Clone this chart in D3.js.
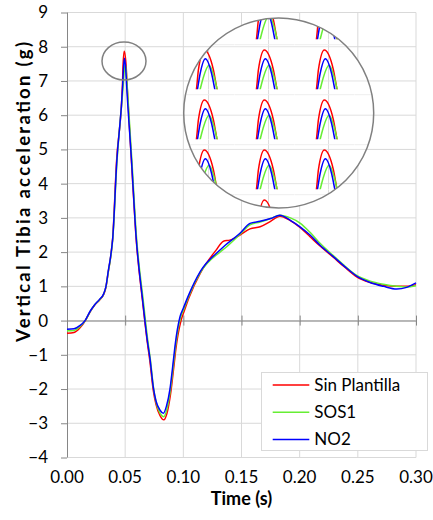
<!DOCTYPE html>
<html>
<head>
<meta charset="utf-8">
<script src="https://cdn.jsdelivr.net/npm/d3@7"></script>
<style>
  body { margin: 0; background: #fff; }
  text { font-family: Lato, "Open Sans", sans-serif; fill: #000; }
</style>
</head>
<body>
<div class="chart"></div>
<script>
// series names and colours
var seriesNames = ["Sin Plantilla", "SOS1", "NO2"];
var seriesColors = ["#ff0000", "#66ee33", "#0000ff"];

// [time (s), acceleration (g)]
var sinPlantilla = [[0.000,-0.37],[0.006,-0.35],[0.011,-0.22],[0.0158,0.0],[0.020,0.26],[0.0235,0.44],[0.028,0.6],[0.0315,0.76],[0.0335,0.98],[0.0355,1.43],[0.0376,1.88],[0.0393,2.42],[0.0425,4.6],[0.0477,6.91],[0.0481,7.4],[0.0492,7.87],[0.0509,7.4],[0.0516,6.91],[0.0555,4.6],[0.0592,2.5],[0.065,0.55],[0.069,-0.62],[0.0713,-1.2],[0.0742,-2.05],[0.0765,-2.45],[0.080,-2.78],[0.0832,-2.9],[0.086,-2.7],[0.089,-2.15],[0.092,-1.3],[0.0937,-0.8],[0.098,0.0],[0.101,0.3],[0.105,0.68],[0.1145,1.38],[0.128,2.05],[0.1345,2.32],[0.140,2.35],[0.1487,2.5],[0.1573,2.68],[0.166,2.74],[0.175,2.9],[0.183,3.05],[0.192,2.92],[0.2003,2.72],[0.2089,2.45],[0.2175,2.18],[0.2289,1.85],[0.238,1.58],[0.249,1.28],[0.260,1.12],[0.272,1.03],[0.2834,1.0],[0.292,1.0],[0.300,1.05]];

var sos1 = [[0.000,-0.3],[0.006,-0.29],[0.011,-0.18],[0.0157,0.0],[0.020,0.27],[0.0235,0.45],[0.028,0.61],[0.0315,0.77],[0.0335,0.99],[0.0355,1.42],[0.0376,1.86],[0.0393,2.36],[0.0428,4.55],[0.0484,6.91],[0.049,7.2],[0.0501,7.5],[0.0511,7.2],[0.05165,6.91],[0.0559,4.6],[0.0596,2.5],[0.0655,0.6],[0.0694,-0.57],[0.0717,-1.15],[0.0745,-2.0],[0.0768,-2.42],[0.0802,-2.72],[0.083,-2.81],[0.0858,-2.6],[0.0888,-2.05],[0.0918,-1.2],[0.0933,-0.75],[0.0975,0.08],[0.1005,0.34],[0.1045,0.7],[0.1145,1.4],[0.1315,2.0],[0.136,2.12],[0.1487,2.52],[0.1573,2.8],[0.166,2.88],[0.175,2.98],[0.183,3.08],[0.192,3.0],[0.2003,2.85],[0.2089,2.58],[0.2175,2.26],[0.2289,1.9],[0.238,1.62],[0.249,1.32],[0.260,1.16],[0.272,1.06],[0.2834,1.0],[0.292,0.98],[0.300,1.02]];

var no2 = [[0.000,-0.25],[0.006,-0.24],[0.011,-0.15],[0.0155,0.0],[0.020,0.28],[0.0235,0.45],[0.028,0.62],[0.0315,0.78],[0.0335,1.0],[0.0355,1.45],[0.0376,1.9],[0.0393,2.4],[0.0427,4.6],[0.0479,6.91],[0.0484,7.29],[0.0494,7.66],[0.0506,7.29],[0.0512,6.91],[0.0556,4.6],[0.0593,2.5],[0.065,0.6],[0.069,-0.57],[0.0713,-1.1],[0.0742,-1.95],[0.0765,-2.35],[0.080,-2.62],[0.0828,-2.71],[0.0855,-2.5],[0.0885,-2.0],[0.0915,-1.15],[0.093,-0.7],[0.0971,0.11],[0.100,0.36],[0.104,0.7],[0.1145,1.43],[0.1315,2.06],[0.136,2.2],[0.1487,2.55],[0.1573,2.84],[0.166,2.9],[0.175,2.98],[0.183,3.08],[0.192,2.93],[0.2003,2.74],[0.2089,2.5],[0.2175,2.2],[0.2289,1.87],[0.238,1.6],[0.249,1.3],[0.260,1.12],[0.272,1.0],[0.2834,0.92],[0.292,0.97],[0.300,1.1]];

// axis ticks
var xTicks = [0, 0.05, 0.10, 0.15, 0.20, 0.25, 0.30];
var yTicks = [-4, -3, -2, -1, 0, 1, 2, 3, 4, 5, 6, 7, 8, 9];

// window of the peak that the magnifier repeats
var zoomTime = [0.04354, 0.05486];
var zoomValue = [8.13, 6.92];

var allSeries = [sinPlantilla, sos1, no2];

var width = 433, height = 520;
var plotLeft = 67, plotRight = 416, plotTop = 12.5, plotBottom = 457.5;

var svg = d3.select('.chart')
            .append('svg')
            .attr('width', width)
            .attr('height', height);

var x = d3.scaleLinear().domain([0, 0.30]).range([plotLeft, plotRight]);
var y = d3.scaleLinear().domain([-4, 9]).range([plotBottom, plotTop]);

//gridlines
svg.append('g').selectAll('line')
   .data(yTicks).enter().append('line')
   .attr('x1', plotLeft).attr('x2', plotRight)
   .attr('y1', function(d) { return y(d); })
   .attr('y2', function(d) { return y(d); })
   .attr('stroke', '#d9d9d9').attr('stroke-width', 1);

svg.append('g').selectAll('line')
   .data(xTicks.slice(1)).enter().append('line')
   .attr('x1', function(d) { return x(d); })
   .attr('x2', function(d) { return x(d); })
   .attr('y1', plotTop).attr('y2', plotBottom)
   .attr('stroke', '#d9d9d9').attr('stroke-width', 1);

//y axis with outside ticks
var yAxis = svg.append('g')
   .attr('transform', 'translate(' + plotLeft + ',0)')
   .call(d3.axisLeft(y).tickValues(yTicks).tickSize(6).tickPadding(13).tickFormat(d3.format('d')));

//x axis sits on zero with crossing ticks, labels at the bottom
var xAxis = svg.append('g')
   .attr('transform', 'translate(0,' + y(0) + ')')
   .call(d3.axisBottom(x).tickValues(xTicks).tickSize(0).tickFormat(''));
xAxis.selectAll('.tick').append('line')
   .attr('y1', -5).attr('y2', 5);

svg.selectAll('.domain, .tick line')
   .attr('stroke', '#868686').attr('stroke-width', 1);
yAxis.select('.domain').attr('d', 'M0.5,' + plotTop + 'V' + plotBottom);
xAxis.select('.domain').attr('d', 'M' + plotLeft + ',0.5H' + plotRight);

yAxis.selectAll('text')
   .style('font-size', '17px')
   .attr('fill', '#000');

svg.append('g').selectAll('text')
   .data(xTicks).enter().append('text')
   .attr('x', function(d) { return x(d); })
   .attr('y', 483)
   .attr('text-anchor', 'middle')
   .style('font-size', '17px')
   .text(d3.format('.2f'));

//axis titles
svg.append('text')
   .attr('x', (plotLeft + plotRight) / 2)
   .attr('y', 505)
   .attr('text-anchor', 'middle')
   .style('font-size', '18px')
   .style('font-weight', 'bold')
   .text('Time (s)');

svg.append('text')
   .attr('transform', 'translate(30,192) rotate(-90)')
   .attr('text-anchor', 'middle')
   .attr('textLength', 300)
   .attr('lengthAdjust', 'spacing')
   .style('font-size', '18.5px')
   .style('font-weight', 'bold')
   .text('Vertical Tibia acceleration (g)');

//the three curves
var line = d3.line()
   .x(function(d) { return x(d[0]); })
   .y(function(d) { return y(d[1]); })
   .curve(d3.curveMonotoneX);

svg.append('g').selectAll('path')
   .data(allSeries).enter().append('path')
   .attr('d', line)
   .attr('fill', 'none')
   .attr('stroke', function(d, i) { return seriesColors[i]; })
   .attr('stroke-width', 1.5);

//small ring round the peak
svg.append('ellipse')
   .attr('cx', 124).attr('cy', 61)
   .attr('rx', 22).attr('ry', 19)
   .attr('fill', 'none')
   .attr('stroke', '#808080').attr('stroke-width', 1.5);

//big magnifier
var cx = 278.7, cy = 113, r = 95;
var defs = svg.append('defs');
defs.append('clipPath').attr('id', 'lens')
    .append('circle').attr('cx', cx).attr('cy', cy).attr('r', r);
defs.append('clipPath').attr('id', 'tile')
    .append('rect').attr('width', 60).attr('height', 50);

svg.append('circle')
   .attr('cx', cx).attr('cy', cy).attr('r', r)
   .attr('fill', '#fff');

var lens = svg.append('g').attr('clip-path', 'url(#lens)');

lens.selectAll('line.grid')
   .data(yTicks).enter().append('line')
   .attr('x1', cx - r).attr('x2', cx + r)
   .attr('y1', function(d) { return y(d); })
   .attr('y2', function(d) { return y(d); })
   .attr('stroke', '#e3e3e3');

var tx = d3.scaleLinear().domain(zoomTime).range([0, 60]);
var ty = d3.scaleLinear().domain(zoomValue).range([0, 50]);
var tileLine = d3.line()
   .x(function(d) { return tx(d[0]); })
   .y(function(d) { return ty(d[1]); })
   .curve(d3.curveMonotoneX);

var tiles = [];
[-1, 0, 1, 2, 3].forEach(function(c) {
  [-1, 0, 1, 2, 3].forEach(function(rw) {
    tiles.push([174.3 + 60 * c, 39.3 + 50 * rw]);
  });
});

var tile = lens.selectAll('g.tile')
   .data(tiles).enter().append('g')
   .attr('transform', function(d) { return 'translate(' + d[0] + ',' + d[1] + ')'; })
   .attr('clip-path', 'url(#tile)');

tile.append('line')
   .attr('x1', tx(0.05)).attr('x2', tx(0.05))
   .attr('y1', 0).attr('y2', 50)
   .attr('stroke', '#dddddd');
tile.append('line')
   .attr('x1', 0).attr('x2', 60)
   .attr('y1', ty(8)).attr('y2', ty(8))
   .attr('stroke', '#eeeeee');

allSeries.forEach(function(s, i) {
  tile.append('path')
      .attr('d', tileLine(s))
      .attr('fill', 'none')
      .attr('stroke', seriesColors[i])
      .attr('stroke-width', 1.5);
});

svg.append('circle')
   .attr('cx', cx).attr('cy', cy).attr('r', r)
   .attr('fill', 'none')
   .attr('stroke', '#808080').attr('stroke-width', 1.5);

//legend
var legend = svg.append('g');
legend.append('rect')
   .attr('x', 261.5).attr('y', 372.5)
   .attr('width', 166).attr('height', 78)
   .attr('fill', '#fff')
   .attr('stroke', '#d9d9d9');

var item = legend.selectAll('g.item')
   .data(seriesNames).enter().append('g')
   .attr('transform', function(d, i) { return 'translate(0,' + (385 + i * 27.2) + ')'; });
item.append('line')
   .attr('x1', 272.7).attr('x2', 309.3)
   .attr('stroke', function(d, i) { return seriesColors[i]; })
   .attr('stroke-width', 1.5);
item.append('text')
   .attr('x', 314.3)
   .attr('dy', '0.35em')
   .style('font-size', '17px')
   .text(function(d) { return d; });
</script>
</body>
</html>
